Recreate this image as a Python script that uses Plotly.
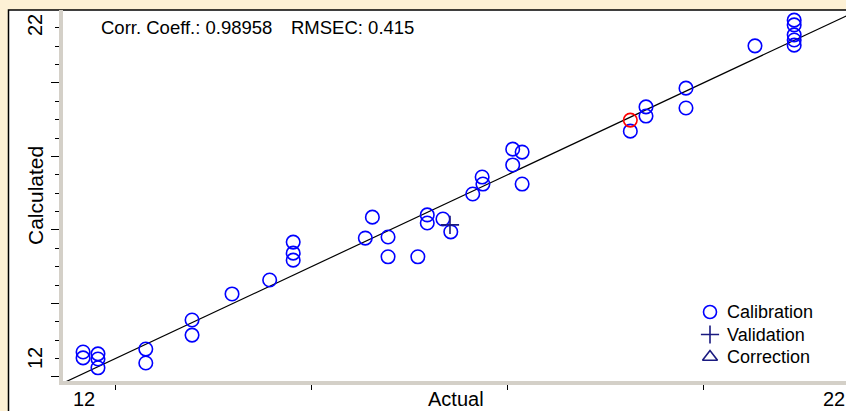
import plotly.graph_objects as go

# ---- data ----
cal_actual = [12.09, 12.09, 12.28, 12.28, 12.28, 12.89, 12.89, 13.48, 13.48, 13.99,
              14.47, 14.77, 14.77, 14.77, 15.78, 15.69, 15.98, 15.98, 16.36, 16.48,
              16.48, 16.68, 16.78, 17.06, 17.18, 17.19, 17.57, 17.69, 17.57, 17.69,
              19.07, 19.27, 19.27, 19.78, 19.78, 20.66, 21.16, 21.16, 21.16, 21.16, 21.16]
cal_calc = [12.68, 12.52, 12.63, 12.49, 12.25, 12.76, 12.38, 13.55, 13.14, 14.26,
            14.64, 15.67, 15.37, 15.18, 16.35, 15.78, 15.81, 15.27, 15.27, 16.41,
            16.19, 16.30, 15.95, 16.98, 17.44, 17.25, 18.20, 18.12, 17.77, 17.25,
            18.69, 19.35, 19.10, 19.86, 19.32, 21.01, 21.71, 21.58, 21.31, 21.17, 21.03]
sel_actual = [19.07]
sel_calc = [18.99]
val_actual = [16.77]
val_calc = [16.14]
fit_x = [11.5, 22.5]
fit_y = [11.5, 22.5]

legend_names = ["Calibration", "Validation", "Correction"]
legend_symbols = ["circle-open", "cross-thin-open", "triangle-up-open"]

x_range = [11.834, 21.821]
y_range = [11.891, 21.986]
y_major = [12, 14, 16, 18, 20, 22]
x_major = [12.5, 15, 17.5, 20]

W, H = 846, 411
L, R, T, B = 63, 0, 10, 30
PW, PH = W - L - R, H - T - B

def px(x):
    return (x - L) / PW

def py(y):
    return (H - B - y) / PH

FONT = "Liberation Sans, Arial, sans-serif"
BLUE = "#0000FF"
NAVY = "#1A1A80"
legend_colors = [BLUE, NAVY, NAVY]

fig = go.Figure()
fig.add_trace(go.Scatter(x=fit_x, y=fit_y, mode="lines",
                         line=dict(color="black", width=1.2), showlegend=False,
                         hoverinfo="skip"))
fig.add_trace(go.Scatter(x=cal_actual, y=cal_calc, mode="markers", name="Calibration",
                         showlegend=False,
                         marker=dict(symbol="circle-open", size=13.5, color=BLUE,
                                     line=dict(width=1.6, color=BLUE))))
fig.add_trace(go.Scatter(x=val_actual, y=val_calc, mode="markers", name="Validation",
                         showlegend=False,
                         marker=dict(symbol="cross-thin-open", size=13, color=NAVY,
                                     line=dict(width=1.6, color=NAVY))))
fig.add_trace(go.Scatter(x=sel_actual, y=sel_calc, mode="markers", showlegend=False,
                         marker=dict(symbol="circle-open", size=13.5, color="#FF0000",
                                     line=dict(width=1.6, color="#FF0000"))))

# hand-drawn legend on an overlay axis spanning the plot area in [0,1]
leg_rows_px = [312, 334.5, 357]
for name, sym, col, ry in zip(legend_names, legend_symbols, legend_colors, leg_rows_px):
    fig.add_trace(go.Scatter(x=[px(710)], y=[py(ry)], mode="markers", xaxis="x2", yaxis="y2",
                             showlegend=False, hoverinfo="skip",
                             marker=dict(symbol=sym, size=13, color=col,
                                         line=dict(width=1.6, color=col))))

annotations = [
    dict(text="Corr. Coeff.: 0.98958", x=px(100), y=py(28), xanchor="left", yanchor="middle",
         font=dict(size=18.5)),
    dict(text="RMSEC: 0.415", x=px(290), y=py(28), xanchor="left", yanchor="middle",
         font=dict(size=18.5)),
    dict(text="Calculated", x=px(35), y=py(196), textangle=-90, xanchor="center",
         yanchor="middle", font=dict(size=21)),
    dict(text="Actual", x=px(456), y=py(411), xanchor="center", yanchor="bottom",
         font=dict(size=20)),
    dict(text="12", x=px(84), y=py(411), xanchor="center", yanchor="bottom",
         font=dict(size=20)),
    dict(text="22", x=px(834), y=py(411), xanchor="center", yanchor="bottom",
         font=dict(size=20)),
    dict(text="22", x=px(35), y=py(25), textangle=-90, xanchor="center", yanchor="middle",
         font=dict(size=20)),
    dict(text="12", x=px(35), y=py(358), textangle=-90, xanchor="center", yanchor="middle",
         font=dict(size=20)),
]
for name, ry in zip(legend_names, leg_rows_px):
    annotations.append(dict(text=name, x=px(726), y=py(ry), xanchor="left",
                            yanchor="middle", font=dict(size=18)))
for a in annotations:
    a.update(xref="paper", yref="paper", showarrow=False, borderpad=0)
    a["font"].update(family=FONT, color="black")

fig.update_layout(
    width=W, height=H,
    margin=dict(l=L, r=R, t=T, b=B, pad=0),
    paper_bgcolor="#FDF1D5",
    plot_bgcolor="white",
    font=dict(family=FONT, color="black"),
    showlegend=False,
    annotations=annotations,
    shapes=[dict(type="rect", xref="paper", yref="paper",
                 x0=px(8.5), x1=px(900), y0=py(460), y1=py(10),
                 fillcolor="white", line=dict(color="black", width=1.5), layer="below")],
    xaxis=dict(range=x_range, showgrid=False, zeroline=False, showticklabels=False,
               showline=True, linecolor="#D4D0C8", linewidth=4,
               ticks="outside", tickvals=x_major, ticklen=5, tickwidth=1.2,
               tickcolor="black"),
    yaxis=dict(range=y_range, showgrid=False, zeroline=False, showticklabels=False,
               showline=True, linecolor="#D4D0C8", linewidth=4,
               ticks="outside", tickvals=y_major, ticklen=8, tickwidth=1.2,
               tickcolor="black",
               minor=dict(dtick=0.5, tick0=12, ticks="outside", ticklen=4,
                          tickwidth=1.2, tickcolor="black")),
    xaxis2=dict(range=[0, 1], overlaying="x", anchor="y2", visible=False, fixedrange=True),
    yaxis2=dict(range=[0, 1], overlaying="y", anchor="x2", visible=False, fixedrange=True),
)

fig.write_html("out.html")
